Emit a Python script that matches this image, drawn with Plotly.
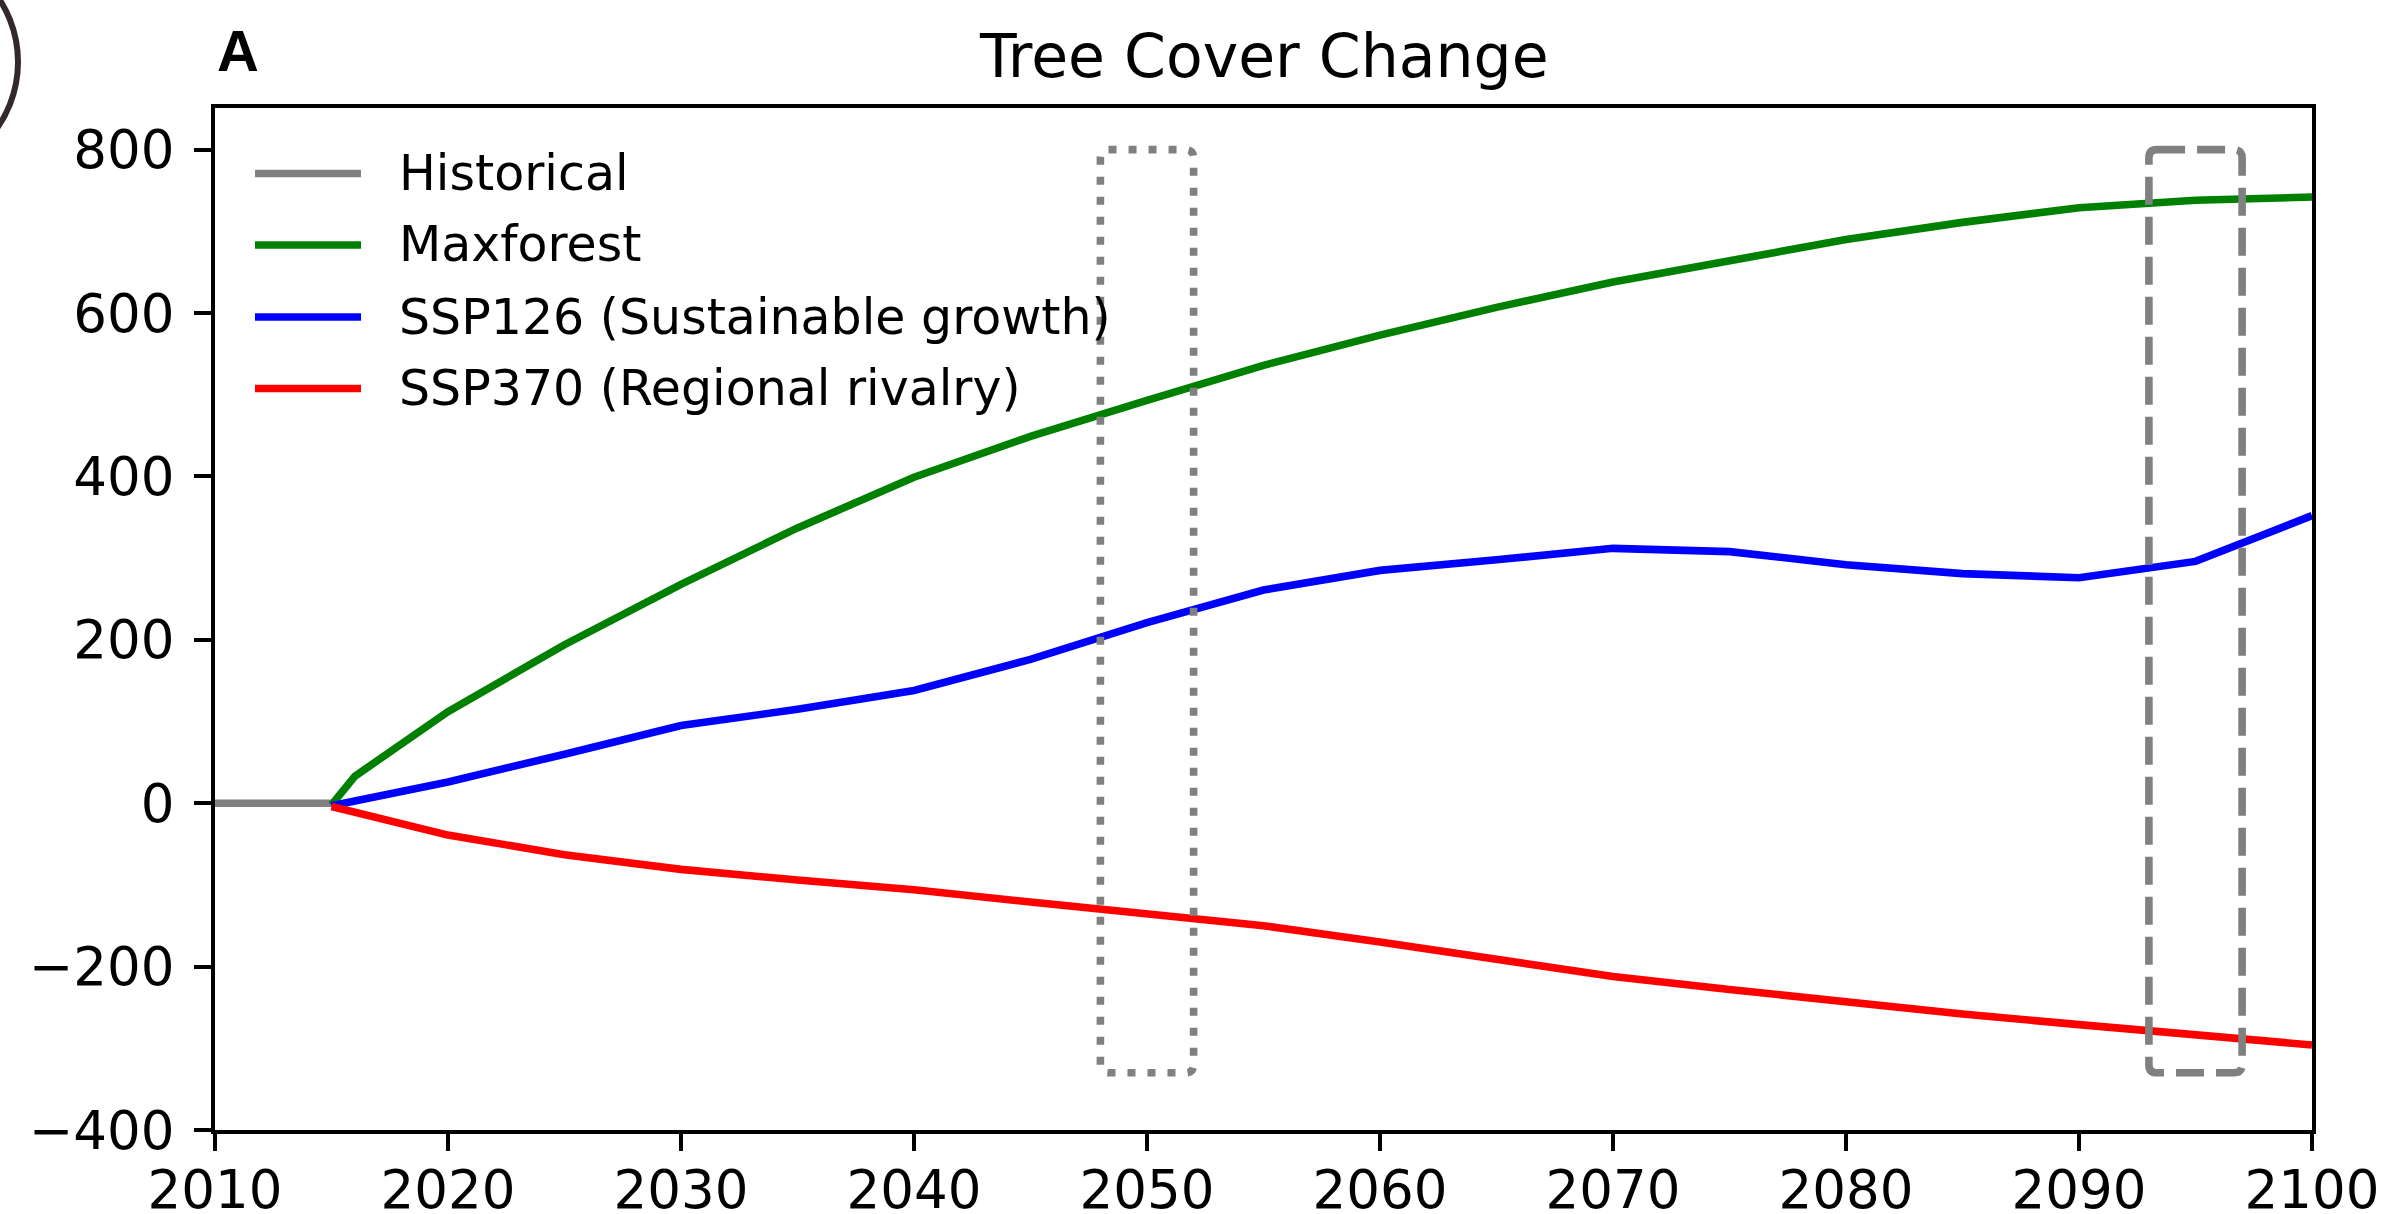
import plotly.graph_objects as go

# ---------------- data ----------------
hist_years = [2010, 2011, 2012, 2013, 2014, 2015]
hist_vals = [0, 0, 0, 0, 0, 0]

maxforest_years = [2015, 2016, 2020, 2025, 2030, 2035, 2040, 2045, 2050, 2055,
                   2060, 2065, 2070, 2075, 2080, 2085, 2090, 2095, 2100]
maxforest_vals = [-2, 33, 112, 194, 268, 337, 399, 449, 493, 536,
                  573, 607, 638, 665, 690, 711, 729, 738, 742]

ssp_years = [2015, 2020, 2025, 2030, 2035, 2040, 2045, 2050, 2055, 2060,
             2065, 2070, 2075, 2080, 2085, 2090, 2095, 2100]
ssp126_vals = [-3, 26, 60, 95, 115, 138, 176, 221, 261, 285,
               298, 312, 308, 292, 281, 276, 296, 352]
ssp370_vals = [-4, -39, -63, -81, -94, -106, -121, -136, -150, -170,
               -191, -212, -228, -244, -258, -271, -284, -296]

series_names = ["Historical", "Maxforest", "SSP126 (Sustainable growth)",
                "SSP370 (Regional rivalry)"]
series_colors = ["#808080", "#008000", "#0000ff", "#ff0000"]

x_ticks = [2010, 2020, 2030, 2040, 2050, 2060, 2070, 2080, 2090, 2100]
y_ticks = [-400, -200, 0, 200, 400, 600, 800]
y_ticktext = ["\u2212400", "\u2212200", "0", "200", "400", "600", "800"]

# highlight windows (years) and vertical extent
window_2050 = [2048, 2052]
window_2095 = [2093, 2097]
window_y = [-330, 800]

# ---------------- layout geometry ----------------
W, H = 2391, 1214
L, R, T, B = 215, 2312, 108, 1130   # plot area in pixels
LW = 7.6


def px2x(px):
    return (px - L) / (R - L)


def px2y(py):
    return (B - py) / (B - T)


fig = go.Figure()

all_x = [hist_years, maxforest_years, ssp_years, ssp_years]
all_y = [hist_vals, maxforest_vals, ssp126_vals, ssp370_vals]
for name, col, xs, ys in zip(series_names, series_colors, all_x, all_y):
    fig.add_trace(go.Scatter(x=xs, y=ys, mode="lines", name=name,
                             line=dict(color=col, width=LW),
                             showlegend=False))


def rounded_box(x0, x1, y0, y1, rx=0.35, ry=10):
    return (f"M {x0+rx},{y1} L {x1-rx},{y1} Q {x1},{y1} {x1},{y1-ry} "
            f"L {x1},{y0+ry} Q {x1},{y0} {x1-rx},{y0} "
            f"L {x0+rx},{y0} Q {x0},{y0} {x0},{y0+ry} "
            f"L {x0},{y1-ry} Q {x0},{y1} {x0+rx},{y1} Z")


shapes = [
    dict(type="path", xref="x", yref="y",
         path=rounded_box(window_2050[0], window_2050[1], window_y[0], window_y[1]),
         line=dict(color="#808080", width=LW, dash="8px,12px")),
    dict(type="path", xref="x", yref="y",
         path=rounded_box(window_2095[0], window_2095[1], window_y[0], window_y[1]),
         line=dict(color="#808080", width=LW, dash="28px,12px")),
    # partial circle at the top-left edge (cropped artefact of the source)
    dict(type="circle", xref="paper", yref="paper",
         x0=px2x(-212), x1=px2x(18), y0=px2y(177), y1=px2y(-53),
         line=dict(color="#33292d", width=6)),
]

# manual legend (matplotlib style, no frame)
leg_rows = [173.5, 245, 317, 388.5]
annotations = []
for name, col, yy in zip(series_names, series_colors, leg_rows):
    shapes.append(dict(type="line", xref="paper", yref="paper",
                       x0=px2x(255), x1=px2x(361), y0=px2y(yy), y1=px2y(yy),
                       line=dict(color=col, width=LW)))
    annotations.append(dict(xref="paper", yref="paper", x=px2x(398), y=px2y(yy),
                            xanchor="left", yanchor="middle", showarrow=False,
                            text=name, borderpad=0,
                            font=dict(family="DejaVu Sans", size=49, color="#000")))

annotations.append(dict(xref="paper", yref="paper", x=0.5, y=px2y(56),
                        xanchor="center", yanchor="middle", showarrow=False,
                        text="Tree Cover Change", borderpad=0,
                        font=dict(family="DejaVu Sans", size=60, color="#000")))
annotations.append(dict(xref="paper", yref="paper", x=px2x(216), y=px2y(50),
                        xanchor="left", yanchor="middle", showarrow=False,
                        text="<b>A</b>", borderpad=0,
                        font=dict(family="Liberation Sans", size=58, color="#000")))

axis_common = dict(showline=True, linecolor="#000", linewidth=4, mirror=True,
                   ticks="outside", ticklen=17, tickwidth=4, tickcolor="#000",
                   showgrid=False, zeroline=False,
                   tickfont=dict(family="DejaVu Sans", size=53, color="#000"))

fig.update_layout(
    width=W, height=H,
    margin=dict(l=L, r=W - R, t=T, b=H - B, autoexpand=False),
    paper_bgcolor="white", plot_bgcolor="white",
    xaxis=dict(range=[2010, 2100], tickvals=x_ticks, ticktext=[str(v) for v in x_ticks],
               ticklabelstandoff=-7, **axis_common),
    yaxis=dict(range=[-400, 851], tickvals=y_ticks, ticktext=y_ticktext,
               ticklabelstandoff=9, **axis_common),
    shapes=shapes, annotations=annotations, showlegend=False,
)

fig.write_html("out.html")
